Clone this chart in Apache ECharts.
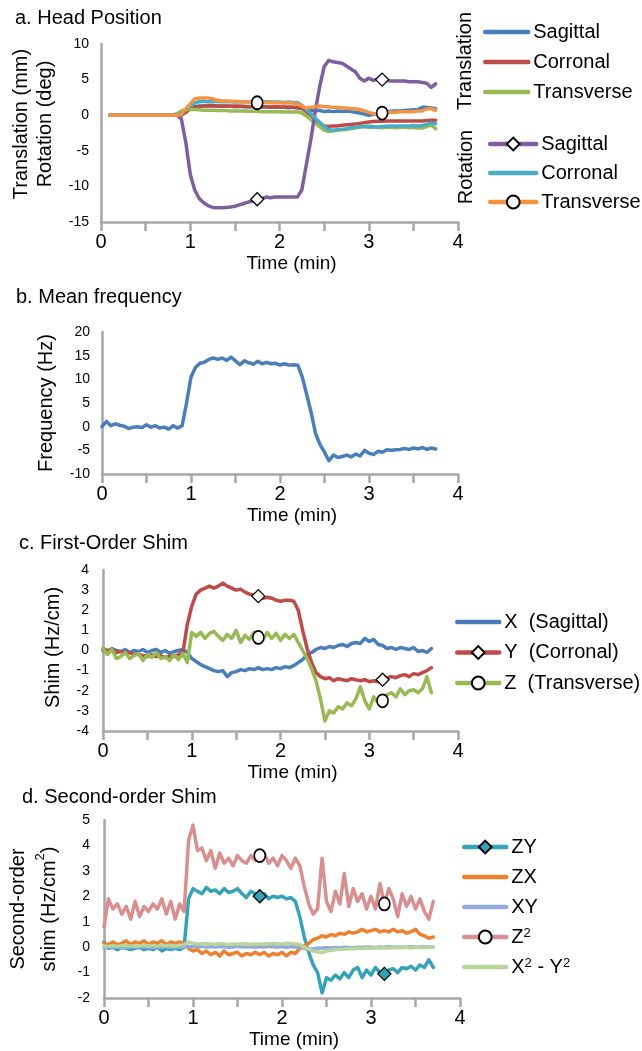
<!DOCTYPE html>
<html>
<head>
<meta charset="utf-8">
<script src="https://cdn.jsdelivr.net/npm/echarts@6/dist/echarts.min.js"></script>
<style>
  html, body { margin: 0; padding: 0; background: #fff; }
  #chart { width: 642px; height: 1051px; }
</style>
</head>
<body>
<div id="chart"></div>
<script>
// ---- a. head position (0.10 .. 3.75 min) ----
const timeA = [0.1,0.15,0.2,0.25,0.3,0.35,0.4,0.45,0.5,0.55,0.6,0.65,0.7,0.75,0.8,0.85,0.9,0.95,1,1.05,
  1.1,1.15,1.2,1.25,1.3,1.35,1.4,1.45,1.5,1.55,1.6,1.65,1.7,1.75,1.8,1.85,1.9,1.95,2,2.05,
  2.1,2.15,2.2,2.25,2.3,2.35,2.4,2.45,2.5,2.55,2.6,2.65,2.7,2.75,2.8,2.85,2.9,2.95,3,3.05,
  3.1,3.15,3.2,3.25,3.3,3.35,3.4,3.45,3.5,3.55,3.6,3.65,3.7,3.75];
const transSag = [0,0,0,0,0,0,0,0,0,0,
  0,0,0,0,0,0,0,0.5,0.9,1.2,
  1.3,1.3,1.35,1.3,1.3,1.25,1.3,1.25,1.2,1.25,
  1.2,1.2,1.2,1.15,1.2,1.15,1.1,1.15,1.1,1.1,
  1.05,1.1,1.0,0.9,0.8,0.7,0.6,0.7,0.5,0.6,
  0.5,0.6,0.5,0.6,0.5,0.4,0.3,0.15,0,0.1,
  0.2,0.4,0.5,0.55,0.6,0.6,0.65,0.7,0.75,0.8,
  1.1,1.1,1.0,0.9];
const transCor = [0,0,0,0,0,0,0,0,0,0,
  0,0,0,0,0,0,0,0.4,0.9,1.1,
  1.2,1.3,1.3,1.35,1.3,1.3,1.3,1.25,1.3,1.25,
  1.25,1.2,1.25,1.2,1.2,1.2,1.15,1.2,1.15,1.15,
  1.15,1.1,1.1,1.0,0.5,-0.1,-0.7,-1.2,-1.5,-1.6,
  -1.5,-1.5,-1.4,-1.35,-1.3,-1.25,-1.15,-1.05,-0.95,-0.9,
  -0.85,-0.85,-0.8,-0.8,-0.8,-0.8,-0.8,-0.8,-0.8,-0.8,
  -0.8,-0.75,-0.7,-0.7];
const transTrans = [0,0,0,0,0,0,0,0,0,0,
  0,0,0,0,0,0.2,0.6,0.8,0.85,0.8,
  0.75,0.7,0.7,0.7,0.65,0.65,0.65,0.6,0.6,0.6,
  0.6,0.55,0.55,0.55,0.5,0.5,0.5,0.5,0.5,0.45,
  0.45,0.45,0.45,0.3,-0.1,-0.6,-1.1,-1.6,-2.1,-2.3,
  -2.2,-2.1,-2.0,-2.0,-1.9,-1.8,-1.6,-1.6,-1.7,-1.7,
  -1.7,-1.75,-1.7,-1.7,-1.75,-1.7,-1.7,-1.75,-1.7,-1.8,
  -1.8,-1.6,-1.4,-1.9];
const rotSag = [0,0,0,0,0,0,0,0,0,0,
  0,0,0,0,0,0,-0.5,-3.8,-8.3,-10.5,
  -11.7,-12.3,-12.7,-12.95,-13,-13,-12.95,-12.9,-12.8,-12.6,
  -12.4,-12.2,-12.1,-11.8,-11.7,-11.5,-11.6,-11.5,-11.5,-11.5,
  -11.5,-11.5,-11.5,-10.5,-7,-3.5,0.5,4,6.8,7.7,
  7.5,7.4,7.3,6.9,6.5,6.1,5.2,4.8,5.2,4.9,
  5.1,5.0,4.9,4.8,4.8,4.8,4.8,4.7,4.7,4.7,
  4.6,4.5,3.9,4.4];
const rotCor = [0,0,0,0,0,0,0,0,0,0,
  0,0,0,0,0,0,0.2,0.8,1.3,1.7,
  1.9,1.95,1.9,1.9,1.95,1.9,1.9,1.9,1.85,1.9,
  1.9,1.85,1.9,1.85,1.85,1.9,1.85,1.85,1.85,1.8,
  1.85,1.8,1.8,1.4,0.8,0.2,-0.4,-1.0,-1.6,-2.0,
  -2.1,-2.0,-2.0,-1.9,-1.75,-1.7,-1.65,-1.6,-1.55,-1.6,
  -1.7,-1.6,-1.55,-1.5,-1.55,-1.5,-1.5,-1.5,-1.45,-1.5,
  -1.45,-1.3,-1.1,-1.2];
const rotTrans = [0,0,0,0,0,0,0,0,0,0,
  0,0,0,0,0,0,0.1,0.9,1.6,2.3,
  2.4,2.4,2.4,2.3,2.1,2.0,2.0,1.95,1.95,1.9,
  1.9,1.85,1.8,1.75,1.8,1.8,1.8,1.75,1.75,1.7,
  1.7,1.7,1.6,1.3,1.0,1.1,1.2,1.3,1.2,1.2,
  1.1,1.1,1.0,1.0,0.9,0.9,0.8,0.6,0.4,0.2,
  0.1,0.3,0.3,0.4,0.4,0.5,0.5,0.5,0.5,0.6,
  0.6,0.9,0.9,0.7];

// ---- b. mean frequency (0 .. 3.75 min) ----
const timeB = [0,0.05,0.1,0.15,0.2,0.25,0.3,0.35,0.4,0.45,0.5,0.55,0.6,0.65,0.7,0.75,0.8,0.85,0.9,0.95,
  1,1.05,1.1,1.15,1.2,1.25,1.3,1.35,1.4,1.45,1.5,1.55,1.6,1.65,1.7,1.75,1.8,1.85,1.9,1.95,
  2,2.05,2.1,2.15,2.2,2.25,2.3,2.35,2.4,2.45,2.5,2.55,2.6,2.65,2.7,2.75,2.8,2.85,2.9,2.95,
  3,3.05,3.1,3.15,3.2,3.25,3.3,3.35,3.4,3.45,3.5,3.55,3.6,3.65,3.7,3.75];
const freq = [0,1.1,0.2,0.6,0.3,0.1,-0.4,-0.1,0,-0.2,
  0.4,-0.1,0.2,-0.3,-0.1,-0.5,0.2,-0.3,0.2,5.0,
  10.5,12.5,13.4,13.6,14.2,14.5,14.2,14.5,14.0,14.7,
  13.9,13.1,13.9,13.5,13.2,13.8,13.3,13.6,13.3,13.4,
  13.0,13.3,13.0,13.1,13.0,10.5,6.8,3.0,-1.5,-3.8,
  -5.4,-7.2,-6.0,-6.5,-6.3,-6.0,-6.4,-5.8,-6.2,-5.0,
  -5.6,-5.9,-5.2,-5.4,-4.9,-5.0,-4.9,-4.8,-4.6,-4.8,
  -4.5,-4.7,-4.4,-4.8,-4.5,-4.7];

// ---- c. first-order shim and d. second-order shim (0 .. 3.70 min) ----
const timeCD = [0,0.05,0.1,0.15,0.2,0.25,0.3,0.35,0.4,0.45,0.5,0.55,0.6,0.65,0.7,0.75,0.8,0.85,0.9,0.95,
  1,1.05,1.1,1.15,1.2,1.25,1.3,1.35,1.4,1.45,1.5,1.55,1.6,1.65,1.7,1.75,1.8,1.85,1.9,1.95,
  2,2.05,2.1,2.15,2.2,2.25,2.3,2.35,2.4,2.45,2.5,2.55,2.6,2.65,2.7,2.75,2.8,2.85,2.9,2.95,
  3,3.05,3.1,3.15,3.2,3.25,3.3,3.35,3.4,3.45,3.5,3.55,3.6,3.65,3.7];
const shimX = [0,-0.1,0.1,0,-0.05,0.05,-0.1,0,-0.05,0.05,
  -0.1,0,0.05,-0.1,0,-0.15,-0.05,0,0.05,-0.1,
  -0.4,-0.55,-0.7,-0.8,-0.9,-1.0,-1.05,-1.0,-1.3,-1.1,
  -1.05,-0.95,-1.0,-0.9,-0.95,-0.85,-0.95,-0.9,-0.95,-0.85,
  -0.9,-0.8,-0.85,-0.75,-0.6,-0.45,-0.2,-0.1,0.05,0.15,
  0.1,0.2,0.15,0.25,0.3,0.2,0.35,0.4,0.35,0.6,
  0.45,0.55,0.3,0.25,0.1,0.15,0.05,0.15,0.1,0.05,
  0.15,-0.05,0,-0.1,0.1];
const shimY = [0.1,0,0.05,-0.1,-0.05,-0.15,-0.1,-0.2,-0.2,-0.25,
  -0.3,-0.2,-0.3,-0.25,-0.35,-0.3,-0.3,-0.2,-0.1,1.3,
  2.2,2.8,3.0,3.1,3.2,3.1,3.2,3.35,3.2,3.1,
  3.0,3.05,2.9,2.8,2.75,2.7,2.6,2.65,2.6,2.5,
  2.45,2.5,2.5,2.45,2.0,1.0,0.1,-0.6,-1.1,-1.3,
  -1.4,-1.35,-1.5,-1.4,-1.45,-1.5,-1.4,-1.45,-1.5,-1.45,
  -1.55,-1.5,-1.55,-1.45,-1.35,-1.3,-1.35,-1.25,-1.2,-1.3,
  -1.15,-1.2,-1.1,-1.0,-0.85];
const shimZ = [0.1,-0.2,0.05,-0.4,-0.3,-0.1,-0.4,-0.25,-0.15,-0.5,
  -0.2,-0.35,-0.1,-0.4,-0.3,-0.5,-0.2,-0.45,-0.15,-0.6,
  0.9,0.7,0.9,0.6,0.85,0.95,0.7,0.5,0.8,0.6,
  1.0,0.4,0.75,0.55,0.9,0.65,0.5,0.9,0.6,0.85,
  0.5,0.8,0.6,0.8,0.4,0.0,-0.4,-0.9,-1.5,-2.4,
  -3.5,-3.0,-3.1,-2.8,-2.9,-2.6,-2.75,-2.4,-1.8,-2.5,
  -2.9,-2.3,-2.6,-2.5,-2.2,-2.1,-2.3,-1.9,-2.2,-2.0,
  -1.95,-2.1,-1.9,-1.3,-2.1];
const shimZY = [0.2,-0.05,0,-0.1,0,-0.05,-0.1,-0.05,0,-0.1,
  -0.05,-0.1,0,-0.15,-0.05,-0.1,-0.05,-0.1,0,1.9,
  2.3,2.2,2.1,2.35,2.2,2.25,2.1,2.3,2.15,2.2,
  2.3,2.1,1.95,2.2,2.1,2.0,2.1,1.9,2.0,1.95,
  2.0,1.9,1.95,1.8,1.2,0.4,-0.2,-0.7,-1.0,-1.8,
  -1.2,-1.3,-1.1,-1.25,-1.0,-1.2,-0.9,-0.8,-1.2,-0.9,
  -1.1,-0.8,-1.0,-1.05,-0.9,-0.85,-1.0,-0.8,-0.85,-0.75,
  -0.9,-0.7,-0.8,-0.5,-0.8];
const shimZX = [0.15,0.1,0.2,0.1,0.15,0.25,0.1,0.2,0.15,0.25,
  0.1,0.2,0.15,0.25,0.1,0.2,0.15,0.2,0.15,-0.05,
  -0.15,-0.1,-0.25,-0.15,-0.3,-0.2,-0.35,-0.15,-0.3,-0.25,
  -0.2,-0.35,-0.25,-0.3,-0.2,-0.3,-0.2,-0.35,-0.25,-0.3,
  -0.2,-0.35,-0.2,-0.25,-0.05,0.05,0.15,0.3,0.35,0.45,
  0.4,0.5,0.45,0.55,0.5,0.6,0.55,0.6,0.7,0.6,
  0.65,0.7,0.6,0.65,0.6,0.7,0.6,0.65,0.55,0.6,
  0.7,0.5,0.45,0.35,0.4];
const shimXY = [0,0.02,-0.02,0.01,0,-0.02,0.02,0,-0.01,0.02,
  0,-0.02,0.01,0,0.02,-0.01,0,0.01,0,0.03,
  0.02,0.01,0.03,0,0.02,0.01,0.03,0.02,0,0.01,
  0.03,0.02,0.01,0.02,0,0.02,0.01,0.03,0.02,0.01,
  0.02,0,0.02,0.01,0,-0.05,-0.08,-0.06,-0.04,-0.03,
  -0.02,-0.03,-0.01,-0.02,0,-0.01,-0.02,0,-0.01,0.01,
  0,-0.01,0.01,0,0.02,0,0.01,-0.01,0.01,0.02,
  0,0.01,0.02,0,0.01];
const shimZ2 = [0.8,1.9,1.5,1.7,1.3,1.6,1.1,1.8,1.2,1.6,
  1.4,1.7,1.5,1.9,1.3,1.8,1.1,1.7,1.4,4.2,
  4.8,3.8,3.9,3.4,3.8,3.1,3.7,3.3,3.5,3.2,
  3.6,3.4,3.3,3.6,3.4,3.6,3.7,3.3,3.5,3.2,
  3.6,3.4,3.1,3.5,3.2,2.4,1.7,1.3,1.5,3.5,
  1.8,1.4,2.2,1.7,2.9,1.6,2.3,1.8,2.1,1.5,
  2.0,1.5,2.5,1.7,2.3,1.9,1.2,2.1,1.6,2.0,
  1.5,1.9,1.4,1.1,1.8];
const shimX2Y2 = [0.05,0.03,0.06,0.04,0.05,0.07,0.04,0.06,0.05,0.07,
  0.05,0.06,0.04,0.07,0.05,0.06,0.05,0.07,0.1,0.2,
  0.15,0.13,0.12,0.14,0.12,0.11,0.13,0.12,0.1,0.12,
  0.11,0.13,0.12,0.1,0.12,0.11,0.13,0.12,0.14,0.12,
  0.13,0.15,0.14,0.12,0.1,0.0,-0.08,-0.15,-0.18,-0.22,
  -0.15,-0.12,-0.1,-0.08,-0.07,-0.05,-0.06,-0.04,-0.05,-0.03,
  -0.04,-0.02,-0.03,-0.02,-0.03,-0.01,-0.02,0,-0.01,-0.02,
  0,-0.01,0,-0.01,0];

// indices of the points that carry a marker (t = 1.75 and 3.15 min)
const marksA = [33, 61];
const marksCD = [35, 63];

const FONT = 'Liberation Sans, Arial, sans-serif';
const AXIS_GREY = '#a6a6a6';

function line(name, gi, time, vals, color, marker) {
  const s = {
    name: name, type: 'line', xAxisIndex: gi, yAxisIndex: gi,
    color: color,
    lineStyle: { color: color, width: 3.5, join: 'round', cap: 'round' },
    emphasis: { disabled: true },
    showAllSymbol: true
  };
  if (marker) {
    s.symbol = marker.symbol;
    s.symbolSize = marker.size;
    s.itemStyle = { color: marker.fill, borderColor: '#000', borderWidth: marker.bw || 1.3 };
    s.data = time.map((t, i) => marker.at.indexOf(i) >= 0
      ? { value: [t, vals[i]] }
      : { value: [t, vals[i]], symbol: 'none' });
  } else {
    s.symbol = 'none';
    s.itemStyle = { color: color, opacity: 0 };
    s.data = time.map((t, i) => [t, vals[i]]);
  }
  return s;
}

function xAx(gi) {
  return {
    type: 'value', gridIndex: gi, min: 0, max: 4, interval: 0.5,
    name: 'Time (min)', nameLocation: 'middle', nameGap: 32,
    nameTextStyle: { fontSize: 19, color: '#000', padding: [0, 0, 0, 24] },
    axisLine: { show: true, onZero: false, lineStyle: { color: AXIS_GREY, width: 2.5 } },
    axisTick: { show: true, length: 9, lineStyle: { color: AXIS_GREY, width: 2.5 } },
    axisLabel: { fontSize: 20, color: '#000', margin: 10,
      formatter: v => (v % 1 === 0 ? String(v) : '') },
    splitLine: { show: false }
  };
}

function yAx(gi, min, max, step, name, gap, margin, nameStyle) {
  return {
    type: 'value', gridIndex: gi, min: min, max: max, interval: step,
    name: name, nameLocation: 'middle', nameGap: gap, nameRotate: 90,
    nameTextStyle: Object.assign({ fontSize: 20, color: '#000', lineHeight: 24 }, nameStyle || {}),
    axisLine: { show: true, onZero: false, lineStyle: { color: AXIS_GREY, width: 2.5 } },
    axisTick: { show: false },
    axisLabel: { fontSize: 14, color: '#000', margin: margin },
    splitLine: { show: false }
  };
}

const noSym = n => ({ name: n, itemStyle: { opacity: 0 } });
const legendBase = {
  orient: 'vertical', padding: 0, itemHeight: 16, itemGap: 10,
  lineStyle: { width: 4.5 },
  textStyle: { fontSize: 20, color: '#000', lineHeight: 20 }
};

const chart = echarts.init(document.getElementById('chart'));
chart.setOption({
  animation: false,
  backgroundColor: '#fff',
  textStyle: { fontFamily: FONT },
  title: [
    { text: 'a. Head Position', left: 15, top: 8 },
    { text: 'b. Mean frequency', left: 16, top: 287 },
    { text: 'c. First-Order Shim', left: 19, top: 533 },
    { text: 'd. Second-order Shim', left: 22, top: 787 }
  ].map(t => Object.assign(t, { padding: 0,
    textStyle: { fontSize: 20, fontWeight: 'normal', color: '#000', fontFamily: FONT } })),
  grid: [
    { left: 101, right: 184, top: 44, height: 178 },
    { left: 102, right: 184, top: 332, height: 142 },
    { left: 103, right: 184, top: 570, height: 161 },
    { left: 104, right: 182, top: 820, height: 178 }
  ].map(g => Object.assign(g, { outerBoundsMode: 'none' })),
  xAxis: [xAx(0), xAx(1), xAx(2), xAx(3)],
  yAxis: [
    yAx(0, -15, 10, 5, 'Translation (mm)\nRotation (deg)', 42, 12, { padding: [0, 0, 0, 18] }),
    yAx(1, -10, 20, 5, 'Frequency (Hz)', 40, 12),
    yAx(2, -4, 4, 1, 'Shim (Hz/cm)', 34, 14, { padding: [0, 0, 0, 6] }),
    yAx(3, -2, 5, 1, '{a|Second-order}\n{a|shim (Hz/cm}{s|2}{a|)}', 39, 14, {
      rich: {
        a: { fontSize: 20, lineHeight: 31, color: '#000', fontFamily: FONT },
        s: { fontSize: 13, lineHeight: 16, verticalAlign: 'top', color: '#000', fontFamily: FONT }
      }
    })
  ],
  legend: [
    Object.assign({}, legendBase, { left: 483, top: 22, itemWidth: 43,
      data: [noSym('Sagittal'), noSym('Corronal'), noSym('Transverse')] }),
    Object.assign({}, legendBase, { left: 488, top: 134, itemWidth: 46, itemGap: 9,
      data: ['Sagittal ', noSym('Corronal '), 'Transverse '] }),
    Object.assign({}, legendBase, { left: 455, top: 612, itemWidth: 42, itemGap: 10.5,
      data: [noSym('X  (Sagittal)'), 'Y  (Corronal)', 'Z  (Transverse)'] }),
    Object.assign({}, legendBase, { left: 462, top: 837, itemWidth: 42, itemGap: 10,
      data: ['ZY', noSym('ZX'), noSym('XY'), 'Z2', noSym('X2-Y2')],
      formatter: function (n) {
        if (n === 'Z2') return '{n|Z}{s|2}';
        if (n === 'X2-Y2') return '{n|X}{s|2}{n| - Y}{s|2}';
        return '{n|' + n + '}';
      },
      textStyle: { fontSize: 20, color: '#000', lineHeight: 20, rich: {
        n: { fontSize: 20, lineHeight: 20, color: '#000', fontFamily: FONT },
        s: { fontSize: 13, lineHeight: 11, verticalAlign: 'top', color: '#000', fontFamily: FONT }
      } } })
  ],
  graphic: [
    { type: 'text', x: 465, y: 61, rotation: Math.PI / 2,
      style: { text: 'Translation', font: '20px ' + FONT, fill: '#000',
        align: 'center', verticalAlign: 'middle', textAlign: 'center', textVerticalAlign: 'middle' } },
    { type: 'text', x: 466, y: 167, rotation: Math.PI / 2,
      style: { text: 'Rotation', font: '20px ' + FONT, fill: '#000',
        align: 'center', verticalAlign: 'middle', textAlign: 'center', textVerticalAlign: 'middle' } }
  ],
  series: [
    line('Sagittal', 0, timeA, transSag, '#4a7ebb'),
    line('Corronal', 0, timeA, transCor, '#be4b48'),
    line('Transverse', 0, timeA, transTrans, '#98b954'),
    line('Sagittal ', 0, timeA, rotSag, '#7d5fa0',
      { symbol: 'diamond', size: 13, fill: '#fff', at: marksA }),
    line('Corronal ', 0, timeA, rotCor, '#4aacc5'),
    line('Transverse ', 0, timeA, rotTrans, '#f59440',
      { symbol: 'circle', size: [11, 13], fill: '#fff', bw: 1.7, at: marksA }),

    line('Mean frequency', 1, timeB, freq, '#4a7ebb'),

    line('X  (Sagittal)', 2, timeCD, shimX, '#4a7ebb'),
    line('Y  (Corronal)', 2, timeCD, shimY, '#be4b48',
      { symbol: 'diamond', size: 13, fill: '#fff', at: marksCD }),
    line('Z  (Transverse)', 2, timeCD, shimZ, '#98b954',
      { symbol: 'circle', size: [11, 13], fill: '#fff', bw: 1.7, at: marksCD }),

    line('ZY', 3, timeCD, shimZY, '#36a2b9',
      { symbol: 'diamond', size: 13, fill: '#36a2b9', at: marksCD }),
    line('ZX', 3, timeCD, shimZX, '#ee8130'),
    line('XY', 3, timeCD, shimXY, '#92a9db'),
    line('Z2', 3, timeCD, shimZ2, '#d88f8f',
      { symbol: 'circle', size: [11, 13], fill: '#fff', bw: 1.7, at: marksCD }),
    line('X2-Y2', 3, timeCD, shimX2Y2, '#b8d59c')
  ]
});
</script>
</body>
</html>
